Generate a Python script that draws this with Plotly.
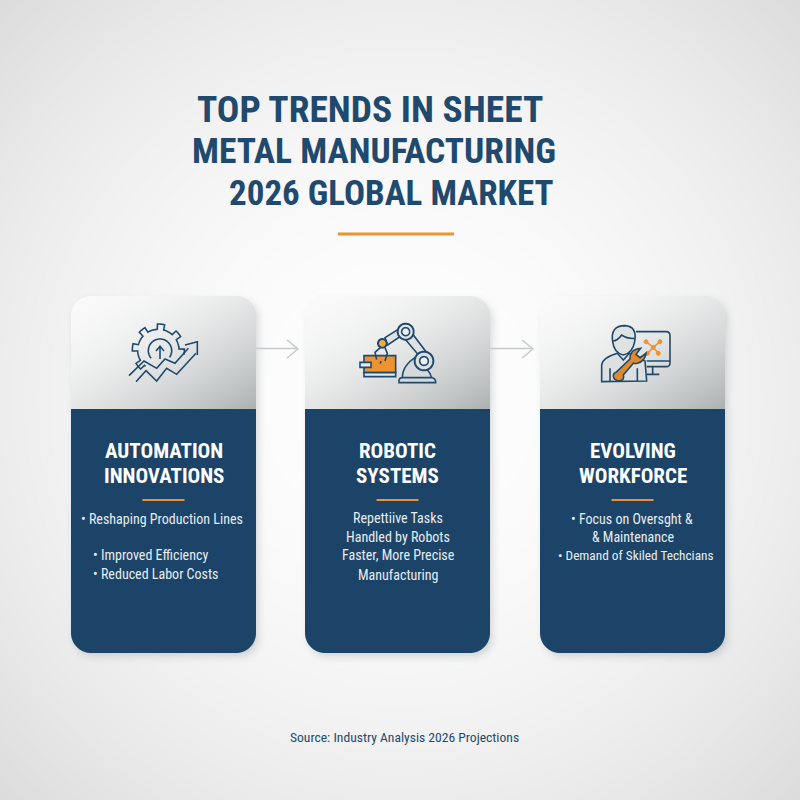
#!/usr/bin/env python
# -*- coding: utf-8 -*-
import re

import numpy as np
import plotly.graph_objects as go

# texts
title_lines = ["TOP TRENDS IN SHEET", "METAL MANUFACTURING", "2026 GLOBAL MARKET"]
card_heads = [["AUTOMATION", "INNOVATIONS"], ["ROBOTIC", "SYSTEMS"], ["EVOLVING", "WORKFORCE"]]
card_lines = [
    ["• Reshaping Production Lines", "• Improved Efficiency", "• Reduced Labor Costs"],
    ["Repettiive Tasks", "Handled by Robots", "Faster, More Precise", "Manufacturing"],
    ["• Focus on Oversght &", "& Maintenance", "• Demand of Skiled Techcians"],
]
source_text = "Source: Industry Analysis 2026 Projections"

NAVY = "#1f4a6e"
ORANGE = "#ef9230"
FONT = "Roboto Condensed"

# layout of the page
title_x = [369.5, 373.5, 391]
title_y = [108.5, 150.5, 193]
title_size = [37.5, 35.5, 35]
card_left = [71, 305, 540]
card_w, card_top, card_bottom, card_split, card_r = 185, 296, 653, 409, 20
line_y = [[519, 555, 574], [518, 537, 555, 575], [519, 537, 555]]
line_x = [[162, 91, 91], [398, 398, 398, 398], [632, 633, 636]]
line_anchor = [["center", "left", "left"], ["center"] * 4, ["center"] * 3]
line_size = [[14, 14, 14], [14, 14, 14, 14], [14, 14, 13.3]]


def rounded_sdf(xx, yy, x0, y0, x1, y1, r):
    cx, cy = (x0 + x1) / 2, (y0 + y1) / 2
    qx = np.abs(xx - cx) - (x1 - x0) / 2 + r
    qy = np.abs(yy - cy) - (y1 - y0) / 2 + r
    return np.hypot(np.maximum(qx, 0), np.maximum(qy, 0)) + np.minimum(np.maximum(qx, qy), 0) - r


def build_backdrop():
    # soft page gradient, card shadows, card gradients
    yy, xx = np.mgrid[0:800, 0:800] + 0.5
    r = np.hypot(xx - 400, yy - 400) / 565
    page = 254 - 34 * r ** 2
    img = np.dstack([page, page, page])
    for left in card_left:
        d = rounded_sdf(xx, yy, left + 3, card_top + 4, left + card_w + 3, card_bottom + 4, card_r)
        a = 0.38 * np.clip((9 - d) / 16, 0, 1) ** 2
        img = img * (1 - a[..., None]) + np.array([120, 125, 130]) * a[..., None]
    for left in card_left:
        d = rounded_sdf(xx, yy, left, card_top, left + card_w, card_bottom, card_r)
        cover = np.clip(0.5 - d, 0, 1)[..., None]
        t = ((xx - left) / card_w + (yy - card_top) / (card_split - card_top)) / 2
        t = np.clip(t, 0, 1)[..., None] ** 1.9
        top = np.array([250, 250, 250]) * (1 - t) + np.array([172, 177, 178]) * t
        body = np.array([27, 68, 104]) * np.ones_like(top)
        face = np.where((yy < card_split)[..., None], top, body)
        img = img * (1 - cover) + face * cover
    return np.clip(img, 0, 255).astype(np.uint8)


def place(path, ox, oy):
    # icon outlines were measured on 3x crops, bring them back to page units
    return re.sub(
        r"(-?[\d.]+),(-?[\d.]+)",
        lambda m: f"{float(m[1]) / 3 + ox:.2f},{float(m[2]) / 3 + oy:.2f}",
        path,
    )


def circle(cx, cy, r, a0=0, a1=360, n=48):
    ang = np.radians(np.linspace(a0, a1, n))
    pts = [f"{cx + r * np.cos(a):.1f},{cy + r * np.sin(a):.1f}" for a in ang]
    return "M" + " L".join(pts)


def gear(cx, cy, r_in, r_out, a0, a1, teeth=8):
    pts = []
    step = 360 / teeth
    for a in np.arange(a0, a1, 1.0):
        phase = ((a + 8) % step) / step
        rad = r_out if 0.12 < phase < 0.5 else r_in
        pts.append(f"{cx + rad * np.cos(np.radians(a)):.1f},{cy + rad * np.sin(np.radians(a)):.1f}")
    return "M" + " L".join(pts)


fig = go.Figure(go.Image(z=build_backdrop(), x0=0.5, y0=0.5, hoverinfo="skip"))


def add_path(path, ox, oy, color=NAVY, width=1.6, fill=None):
    fig.add_shape(
        type="path", path=place(path, ox, oy), xref="x", yref="y",
        line=dict(color=color, width=width),
        fillcolor=fill if fill else "rgba(0,0,0,0)",
    )


def add_text(text, x, y, size, color, bold=False, anchor="center"):
    fig.add_annotation(
        x=x, y=y, text=text, xref="x", yref="y", showarrow=False,
        xanchor=anchor, yanchor="middle",
        font=dict(family=FONT, size=size, color=color, weight="bold" if bold else "normal"),
    )


# title
for text, x, y, size in zip(title_lines, title_x, title_y, title_size):
    add_text(text, x, y, size, NAVY, bold=True)
fig.add_shape(type="rect", x0=338, x1=454, y0=232.5, y1=235.5, line_width=0, fillcolor=ORANGE)

# arrows between the cards
for x0, x1 in [(256, 298), (490, 533)]:
    fig.add_shape(type="line", x0=x0, x1=x1, y0=348.5, y1=348.5, line=dict(color="#c6cacb", width=1.5))
    fig.add_shape(
        type="path", path=f"M{x1 - 11},340 L{x1},349 L{x1 - 11},358",
        line=dict(color="#c6cacb", width=1.5),
    )

# gear + rising chart icon
ox, oy = 60, 285
add_path(gear(295, 195, 62, 78, 128, 372), ox, oy)
add_path(circle(300, 197, 35, 140, 395), ox, oy)
add_path("M300,222 L300,185 M288,198 L300,184 L312,198", ox, oy)
add_path("M207,272 L252,228 L290,250 L315,222 L345,235 L385,190", ox, oy)
add_path("M228,290 L258,257 L290,288 L320,250 L350,268 L408,205", ox, oy)
add_path("M375,180 L412,170 L412,210", ox, oy)

# robot arm icon
ox, oy = 295, 285
add_path("M207,212 L302,212 L302,263 L207,263 Z", ox, oy, fill=ORANGE)
add_path("M207,263 L302,263 L302,275 L207,275 Z", ox, oy, fill="#e6e9ea")
add_path("M195,232 L228,232 L228,247 L195,247 Z", ox, oy, fill="#e6e9ea")
add_path("M322,280 Q322,240 365,215 L405,265 L410,280 Z", ox, oy, fill="#d5d9da")
add_path("M312,293 L312,285 Q314,278 322,278 L412,278 Q422,280 422,293 Z", ox, oy, fill="#d5d9da")
add_path("M270,158 L318,128 L328,146 L278,180 Z", ox, oy, fill="#dfe2e3")
add_path("M328,160 L352,146 L402,212 L375,215 Z", ox, oy, fill="#dfe2e3")
add_path(circle(332, 140, 24), ox, oy, fill="#e4e7e8", width=2)
add_path(circle(332, 140, 12), ox, oy, fill="#eef0f0")
add_path(circle(387, 228, 28), ox, oy, fill="#dde0e1", width=2)
add_path(circle(387, 228, 13), ox, oy, fill="#eef0f0")
add_path("M256,188 L240,202 L245,224 M270,188 L277,205 L270,228 M258,228 L256,236", ox, oy)
add_path(circle(262, 175, 13), ox, oy, fill="#f5ab3c", width=2)

# technician icon
ox, oy = 530, 285
add_path("M318,140 L408,140 Q420,140 420,152 L420,233 Q420,245 408,245 L350,245", ox, oy)
add_path("M350,228 L420,228 M368,245 L368,268 M350,268 L388,268", ox, oy)
add_path("M348,170 L370,187 L390,170 M370,187 L385,205 M370,187 L352,205", ox, oy, color=ORANGE)
for cx, cy in [(348, 170), (390, 170), (370, 187), (385, 205), (352, 205)]:
    add_path(circle(cx, cy, 6, n=12), ox, oy, color=ORANGE, fill=ORANGE, width=1)
add_path(
    "M248,170 Q240,122 285,122 Q322,124 314,170 Q308,205 280,210 Q252,205 248,170 Z", ox, oy,
    fill="#dfe2e3",
)
add_path("M248,168 Q262,168 275,150 Q292,162 314,160", ox, oy)
add_path(
    "M215,290 L215,240 Q218,218 262,205 L280,225 L298,205 L345,228 L350,288 Z", ox, oy,
    fill="#dde0e1",
)
add_path("M240,250 L240,288 M322,250 L322,288", ox, oy)
add_path(
    "M258,262 L300,222 Q298,200 320,192 L332,190 L318,208 L330,218 L348,205 Q345,228 322,235 "
    "Q315,236 310,235 L280,270 Q285,285 268,288 Q250,285 250,272 Q250,265 258,262 Z",
    ox, oy, fill="#e08a2c",
)

# card texts
for i, left in enumerate(card_left):
    mid = left + card_w / 2
    for text, y in zip(card_heads[i], [451, 475.5]):
        add_text(text, mid, y, 21, "white", bold=True)
    fig.add_shape(type="rect", x0=mid - 21, x1=mid + 21, y0=499, y1=501, line_width=0, fillcolor=ORANGE)
    for text, x, y, anchor, size in zip(card_lines[i], line_x[i], line_y[i], line_anchor[i], line_size[i]):
        add_text(text, x, y, size, "#e8edf1", anchor=anchor)

add_text(source_text, 404, 737, 13.6, NAVY)

fig.update_xaxes(range=[0, 800], visible=False, fixedrange=True)
fig.update_yaxes(range=[800, 0], visible=False, fixedrange=True)
fig.update_layout(
    width=800, height=800,
    margin=dict(l=0, r=0, t=0, b=0),
    paper_bgcolor="white", plot_bgcolor="white",
    showlegend=False,
)

fig.write_html("out.html", post_script="document.body.style.margin='0';", config={"displayModeBar": False})
